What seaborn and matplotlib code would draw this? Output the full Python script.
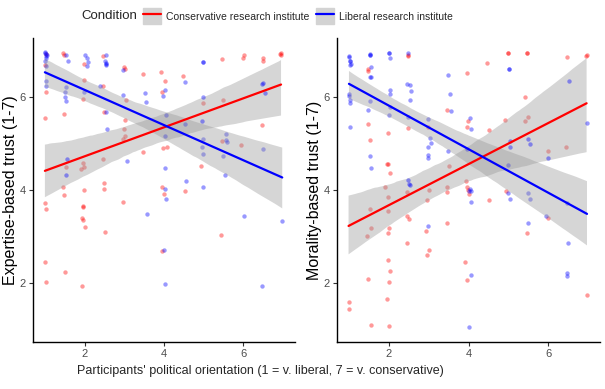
import numpy as np
import pandas as pd
import seaborn as sns
from matplotlib import pyplot as plt
from matplotlib.patches import Patch
from matplotlib.lines import Line2D
from matplotlib.collections import PolyCollection

# Expertise-based trust, conservative institute condition
# (last few values sit in dark, overlapping clusters of the original)
exp_cons_x = [1.46, 1.99, 1.98, 1.03, 1.00, 1.48, 1.96, 2.46, 2.48, 3.00, 3.46, 3.93, 4.02, 3.96,
              4.48, 5.46, 6.02, 6.93, 6.50, 4.98, 5.48, 3.04, 3.03, 3.00, 3.02, 2.98, 3.46, 3.98,
              4.07, 2.46, 1.96, 1.92, 1.99, 1.54, 1.46, 1.99, 2.48, 2.48, 3.96, 4.53, 4.93, 5.93,
              5.46, 6.48, 1.48, 1.00, 1.03, 1.96, 1.95, 1.94, 1.96, 2.02, 2.98, 4.00, 2.52, 5.44,
              3.96, 1.00, 1.50, 1.03, 1.93,
              1.02, 1.48, 1.00, 2.47, 3.02, 6.95, 6.50, 6.95, 5.98]
exp_cons_y = [6.95, 6.72, 6.37, 6.10, 5.55, 5.63, 5.96, 6.24, 5.67, 6.64, 6.49, 6.55, 6.34, 6.10,
              6.46, 6.82, 6.90, 6.92, 6.78, 5.87, 5.94, 5.94, 5.51, 5.30, 5.17, 5.10, 4.81, 4.90,
              4.93, 4.66, 4.57, 4.45, 4.49, 4.50, 4.06, 3.99, 4.14, 4.02, 4.07, 3.97, 4.52, 4.97,
              5.05, 5.40, 3.89, 3.72, 3.58, 3.63, 3.64, 3.40, 3.35, 3.20, 3.74, 3.91, 3.08, 3.03,
              2.69, 2.44, 2.23, 2.01, 1.93,
              6.92, 6.90, 6.70, 6.88, 6.60, 6.95, 6.85, 6.90, 6.85]

# Expertise-based trust, liberal institute condition
exp_lib_x = [1.00, 1.05, 1.02, 1.00, 1.02, 1.02, 1.02, 1.54, 1.57, 2.00, 2.07, 2.08, 2.07, 2.54,
             2.52, 2.55, 2.53, 2.98, 4.98, 4.54, 1.54, 1.50, 1.50, 1.54, 1.99, 2.39, 2.54, 2.98,
             3.52, 3.54, 4.02, 3.98, 4.04, 4.02, 4.98, 4.96, 4.53, 2.57, 3.08, 1.55, 1.52, 4.98,
             4.97, 4.99, 5.57, 5.56, 5.58, 5.50, 5.54, 4.02, 4.03, 4.98, 6.48, 6.54, 6.50, 4.55,
             4.04, 3.57, 6.02, 6.98, 4.00, 4.02, 6.48,
             1.01, 1.03, 2.53, 4.98, 6.50, 1.02]
exp_lib_y = [6.95, 6.90, 6.85, 6.78, 6.67, 6.35, 6.24, 6.91, 6.78, 6.90, 6.85, 6.76, 6.67, 6.90,
             6.78, 6.72, 6.70, 6.58, 6.76, 6.32, 6.21, 6.10, 6.00, 5.91, 6.10, 6.24, 5.67, 6.05,
             6.08, 5.90, 6.15, 6.03, 5.62, 5.17, 6.00, 5.48, 5.41, 5.31, 4.63, 4.66, 4.31, 5.10,
             4.93, 4.78, 5.20, 5.07, 5.03, 4.72, 4.31, 4.46, 4.02, 4.05, 6.29, 6.08, 4.87, 4.20,
             3.81, 3.48, 3.43, 3.33, 2.70, 1.96, 1.93,
             6.97, 6.88, 6.74, 6.76, 6.30, 6.92]

# Morality-based trust, conservative institute condition
mor_cons_x = [1.47, 1.49, 1.52, 1.97, 1.95, 1.97, 2.02, 2.49, 2.47, 3.47, 3.95, 3.99, 3.97, 4.47,
              4.52, 4.99, 5.47, 6.47, 6.95, 5.41, 4.91, 5.41, 5.49, 5.99, 6.45, 2.99, 3.52, 3.93,
              1.91, 3.47, 3.95, 2.45, 1.98, 1.54, 1.98, 3.00, 2.96, 3.45, 3.99, 4.01, 4.52, 4.93,
              2.46, 2.50, 1.55, 2.00, 1.45, 1.98, 2.93, 3.45, 2.45, 3.01, 2.95, 1.98, 2.03, 1.47,
              2.00, 3.91, 3.95, 0.99, 1.01, 1.96, 1.55, 2.00, 5.47, 5.98, 6.96,
              1.47, 2.48, 4.99, 5.47, 6.96]
mor_cons_y = [6.57, 5.42, 5.07, 5.22, 4.56, 4.55, 4.36, 5.33, 6.89, 5.72, 6.51, 5.48, 5.36, 6.74,
              5.29, 6.96, 6.96, 6.87, 6.88, 5.99, 5.50, 5.49, 5.58, 4.84, 4.92, 5.36, 4.52, 4.20,
              4.06, 4.05, 4.06, 3.96, 3.85, 3.58, 3.55, 4.00, 3.77, 3.95, 4.00, 3.90, 3.79, 3.97,
              3.43, 3.37, 3.17, 3.17, 3.00, 3.07, 3.11, 3.29, 2.85, 2.71, 2.60, 2.48, 2.25, 2.08,
              2.01, 2.45, 2.06, 1.59, 1.42, 1.65, 1.09, 1.07, 3.07, 3.40, 1.73,
              6.60, 6.90, 6.95, 6.95, 6.90]

# Morality-based trust, liberal institute condition
mor_lib_x = [1.00, 1.03, 1.04, 1.03, 1.00, 1.01, 1.03, 1.02, 1.03, 1.53, 1.55, 1.52, 1.55, 1.52,
             1.48, 1.53, 1.55, 2.00, 2.02, 2.02, 2.03, 2.04, 2.00, 2.47, 2.46, 2.52, 2.55, 2.52,
             2.47, 2.97, 3.04, 3.05, 2.99, 2.97, 2.99, 2.49, 2.52, 3.49, 3.53, 3.55, 3.49, 4.03,
             4.05, 3.95, 5.02, 5.03, 5.03, 4.99, 5.50, 5.54, 5.99, 6.52, 6.97, 4.03, 4.00, 4.07,
             4.07, 2.97, 2.50, 5.00, 5.04, 5.50, 5.53, 5.49, 5.94, 6.48, 6.50, 6.48, 4.07, 4.01,
             1.00, 1.03, 1.53, 2.00, 6.48, 1.53, 5.02]
mor_lib_y = [6.87, 6.78, 6.72, 6.70, 6.06, 6.03, 5.93, 5.88, 5.36, 6.92, 6.65, 6.44, 6.43, 5.92,
             5.72, 4.72, 4.47, 6.96, 6.85, 6.15, 6.06, 5.79, 5.62, 6.94, 6.28, 6.27, 6.14, 5.93,
             5.56, 5.53, 5.12, 5.00, 4.93, 4.76, 4.69, 4.21, 4.11, 6.48, 6.06, 5.69, 4.83, 5.55,
             5.31, 4.88, 6.60, 5.06, 4.93, 4.54, 5.09, 4.99, 4.69, 6.35, 5.43, 4.02, 3.98, 3.98,
             3.73, 3.22, 4.13, 3.93, 3.81, 3.93, 3.81, 3.28, 3.44, 3.71, 2.85, 2.15, 2.17, 1.05,
             6.88, 6.77, 6.90, 6.95, 2.20, 6.90, 6.60]

conditions = ["Conservative research institute", "Liberal research institute"]
colors = {"Conservative research institute": "#FF0000", "Liberal research institute": "#0000FF"}
x_title = "Participants' political orientation (1 = v. liberal, 7 = v. conservative)"
y_titles = ["Expertise-based trust (1-7)", "Morality-based trust (1-7)"]


def make_df(cx, cy, lx, ly):
    a = pd.DataFrame({"x": cx, "y": cy, "cond": conditions[0]})
    b = pd.DataFrame({"x": lx, "y": ly, "cond": conditions[1]})
    return pd.concat([a, b], ignore_index=True)


panels = [make_df(exp_cons_x, exp_cons_y, exp_lib_x, exp_lib_y),
          make_df(mor_cons_x, mor_cons_y, mor_lib_x, mor_lib_y)]

sns.set_theme(style="ticks")
plt.rcParams["font.family"] = ["Liberation Sans", "DejaVu Sans"]

fig = plt.figure(figsize=(6.05, 3.89), dpi=100)
boxes = [[0.0545, 0.121, 0.433, 0.781], [0.557, 0.121, 0.435, 0.781]]

for box, df, ytitle in zip(boxes, panels, y_titles):
    ax = fig.add_axes(box)
    for cond in conditions:
        sub = df[df["cond"] == cond]
        sns.regplot(data=sub, x="x", y="y", ax=ax, color=colors[cond], ci=95,
                    n_boot=1000, seed=1,
                    scatter_kws=dict(s=10, alpha=0.4, linewidths=0),
                    line_kws=dict(lw=1.6))
    # ggplot-like grey confidence bands
    for coll in ax.collections:
        if isinstance(coll, PolyCollection):
            coll.set_facecolor("#999999")
            coll.set_alpha(0.4)
            coll.set_edgecolor("none")
    ax.set_xlim(0.7, 7.3)
    ax.set_ylim(0.72, 7.27)
    ax.set_xticks([2, 4, 6])
    ax.set_yticks([2, 4, 6])
    ax.set_xlabel("")
    ax.set_ylabel(ytitle, fontsize=11.5, color="black", labelpad=1)
    ax.tick_params(labelsize=8, colors="#4d4d4d", length=3, width=0.8, pad=2)
    ax.tick_params(axis="both", which="both", color="#333333")
    for side in ["top", "right"]:
        ax.spines[side].set_visible(False)
    for side in ["left", "bottom"]:
        ax.spines[side].set_linewidth(1.0)
        ax.spines[side].set_color("black")

fig.text(0.43, 0.045, x_title, ha="center", va="center", fontsize=9)

handles = [(Patch(facecolor="#d3d3d3", edgecolor="#d3d3d3"), Line2D([], [], color=colors[c], lw=1.6))
           for c in conditions]
fig.text(0.135, 0.958, "Condition", ha="left", va="center", fontsize=9.5)
fig.legend(handles, conditions, loc="center left", bbox_to_anchor=(0.237, 0.958), ncol=2,
           frameon=False, fontsize=7.5, handlelength=1.7, handleheight=2.0,
           handletextpad=0.5, columnspacing=0.6, borderaxespad=0, borderpad=0)

fig.savefig("out.png", dpi=100)
